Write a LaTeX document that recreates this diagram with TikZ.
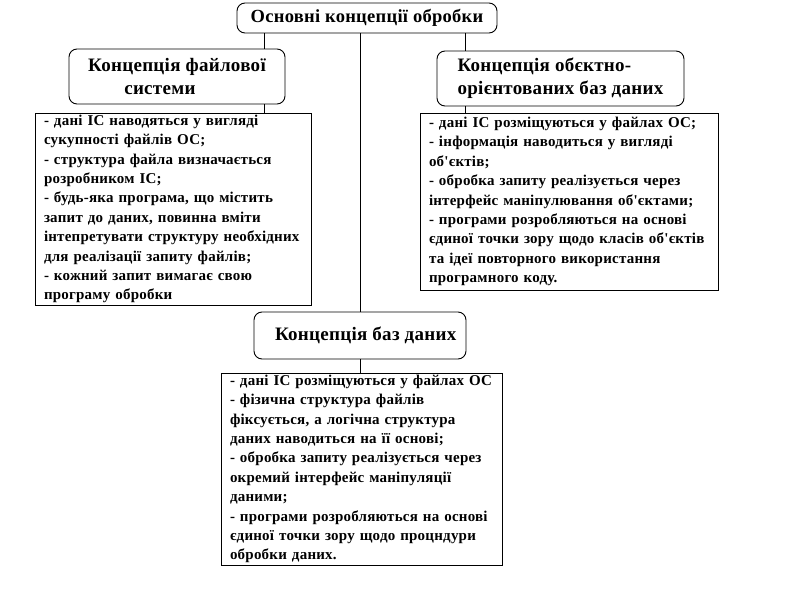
\documentclass[tikz,border=0pt]{standalone}
\usepackage{fontspec}
\setmainfont{Liberation Serif}[Ligatures=TeXOff, LetterSpace=1.5]
\usetikzlibrary{positioning}
\tikzset{
  headbox/.style={draw, line width=0.9pt, rounded corners=8pt, inner sep=0pt,
    font=\fontsize{19}{23}\selectfont\bfseries, align=center},
  infobox/.style={draw, line width=0.9pt, inner xsep=9pt, inner ysep=0pt,
    font=\fontsize{15}{19.4}\selectfont\bfseries, align=left},
  link/.style={draw, line width=0.9pt}
}
\begin{document}
\begin{tikzpicture}[x=1pt, y=-1pt]
\useasboundingbox (0,0) rectangle (790,594);

\node[headbox, minimum width=260pt, minimum height=30pt, font=\fontsize{18.5}{22}\selectfont\bfseries] (title) at (367,18)
  {Основні концепції обробки};

\node[headbox, minimum width=216pt, minimum height=55pt, align=left] (lhead) at (177,76.5)
  {Концепція файлової\\\hspace*{1.9em}системи};
\node[headbox, minimum width=247pt, minimum height=55pt, align=left] (rhead) at (560.5,78.5)
  {Концепція обєктно-\\орієнтованих баз даних};
\node[headbox, minimum width=212pt, minimum height=47pt] (bhead) at (360,335.5)
  {\hspace*{0.6em}Концепція баз даних};

\node[infobox, text width=258pt, minimum height=192pt] (ldet) at (173,209) {%
- дані ІС наводяться у вигляді\\
сукупності файлів ОС;\\
- структура файла визначається\\
розробником ІС;\\
- будь-яка програма, що містить\\
запит до даних, повинна вміти\\
інтепретувати структуру необхідних\\
для реалізації запиту файлів;\\
- кожний запит вимагає свою\\
програму обробки};
\node[infobox, text width=280pt, minimum height=177pt] (rdet) at (569,201.5) {%
- дані ІС розміщуються у файлах ОС;\\
- інформація наводиться у вигляді\\
об'єктів;\\
- обробка запиту реалізується через\\
інтерфейс маніпулювання об'єктами;\\
- програми розробляються на основі\\
єдиної точки зору щодо класів об'єктів\\
та ідеї повторного використання\\
програмного коду.};
\node[infobox, text width=263pt, minimum height=192pt] (bdet) at (361.5,469) {%
- дані ІС розміщуються у файлах ОС\\
- фізична структура файлів\\
фіксується, а логічна структура\\
даних наводиться на її основі;\\
- обробка запиту реалізується через\\
окремий інтерфейс маніпуляції\\
даними;\\
- програми розробляються на основі\\
єдиної точки зору щодо процндури\\
обробки даних.};

\coordinate (lx) at (264,0);
\coordinate (rx) at (465,0);
\path[link] (title.south -| lx) -- (lhead.north -| lx);
\path[link] (lhead.south -| lx) -- (ldet.north -| lx);
\path[link] (title.south -| rx) -- (rhead.north -| rx);
\path[link] (rhead.south -| rx) -- (rdet.north -| rx);
\path[link] (title.south -| bhead.north) -- (bhead.north);
\path[link] (bhead.south) -- (bdet.north -| bhead.south);
\end{tikzpicture}
\end{document}
